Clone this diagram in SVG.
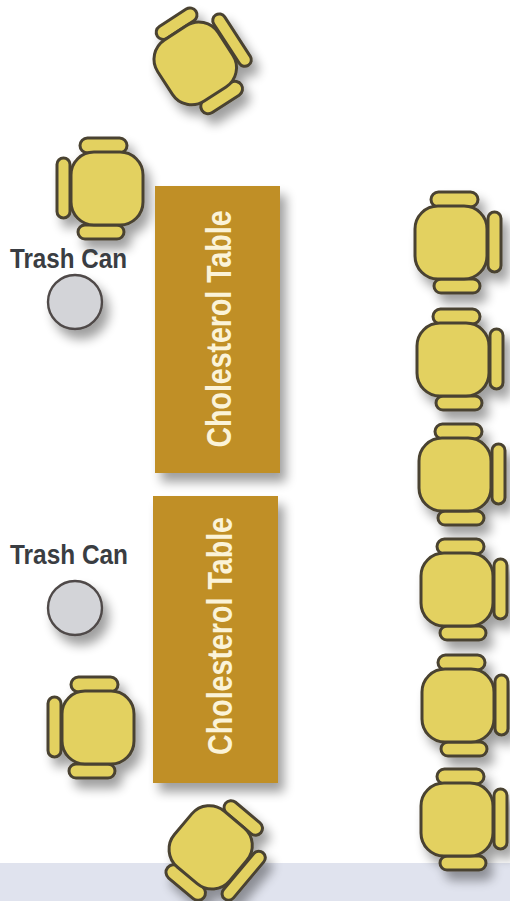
<svg xmlns="http://www.w3.org/2000/svg" width="510" height="901" viewBox="0 0 510 901">
<style>
.p{fill:#e3d160;stroke:#4a4230;stroke-width:3}
.table{fill:#c08f28}
.can{fill:#d3d4d8;stroke:#4f4a48;stroke-width:2.4}
.tl{font-family:"Liberation Sans",Arial,sans-serif;font-weight:700;font-size:27px;fill:#3a3d42}
.tt{font-family:"Liberation Sans",Arial,sans-serif;font-weight:700;font-size:35px;fill:#fbf3d8;text-anchor:middle}
.sh{filter:url(#s)}
</style>
<defs>
<filter id="s" x="-30%" y="-30%" width="170%" height="170%"><feGaussianBlur in="SourceAlpha" stdDeviation="5.5"/><feOffset dx="6" dy="9"/><feComponentTransfer><feFuncA type="linear" slope="0.38"/></feComponentTransfer><feMerge><feMergeNode/><feMergeNode in="SourceGraphic"/></feMerge></filter>
<g id="chair">
<rect class="p" x="-27" y="-51" width="47" height="15" rx="7.5"/>
<rect class="p" x="-29" y="36" width="46" height="14" rx="7"/>
<rect class="p" x="-50" y="-31" width="13" height="60" rx="6.5"/>
<rect class="p" x="-36" y="-37" width="72" height="73" rx="23"/>
</g>
</defs>
<rect id="band" x="0" y="863" width="510" height="38" fill="#e0e3ee"/>
<g id="chair-top" class="sh"><use href="#chair" transform="translate(195,63) rotate(147)"/></g>
<g id="chair-left-1" class="sh"><use href="#chair" transform="translate(107,189)"/></g>
<g id="chair-left-2" class="sh"><use href="#chair" transform="translate(98,728)"/></g>
<g id="chair-bottom" class="sh"><use href="#chair" transform="translate(211,847) rotate(220)"/></g>
<g id="table-1"><rect class="table sh" x="155" y="186" width="125" height="287"/><text class="tt" transform="translate(231,329) rotate(-90)" textLength="237" lengthAdjust="spacingAndGlyphs">Cholesterol Table</text></g>
<g id="table-2"><rect class="table sh" x="153" y="496" width="125" height="287"/><text class="tt" transform="translate(232,636) rotate(-90)" textLength="238" lengthAdjust="spacingAndGlyphs">Cholesterol Table</text></g>
<g id="can-1"><text class="tl" x="10" y="268" textLength="117" lengthAdjust="spacingAndGlyphs">Trash Can</text><circle class="can sh" cx="75" cy="302" r="27"/></g>
<g id="can-2"><text class="tl" x="10" y="564" textLength="118" lengthAdjust="spacingAndGlyphs">Trash Can</text><circle class="can sh" cx="75" cy="608" r="27"/></g>
<g id="chair-right-1" class="sh"><use href="#chair" transform="translate(451,243) scale(-1,1)"/></g>
<g id="chair-right-2" class="sh"><use href="#chair" transform="translate(453,360) scale(-1,1)"/></g>
<g id="chair-right-3" class="sh"><use href="#chair" transform="translate(455,475) scale(-1,1)"/></g>
<g id="chair-right-4" class="sh"><use href="#chair" transform="translate(457,590) scale(-1,1)"/></g>
<g id="chair-right-5" class="sh"><use href="#chair" transform="translate(458,706) scale(-1,1)"/></g>
<g id="chair-right-6" class="sh"><use href="#chair" transform="translate(457,820) scale(-1,1)"/></g>
<g id="connectors"/>
</svg>
